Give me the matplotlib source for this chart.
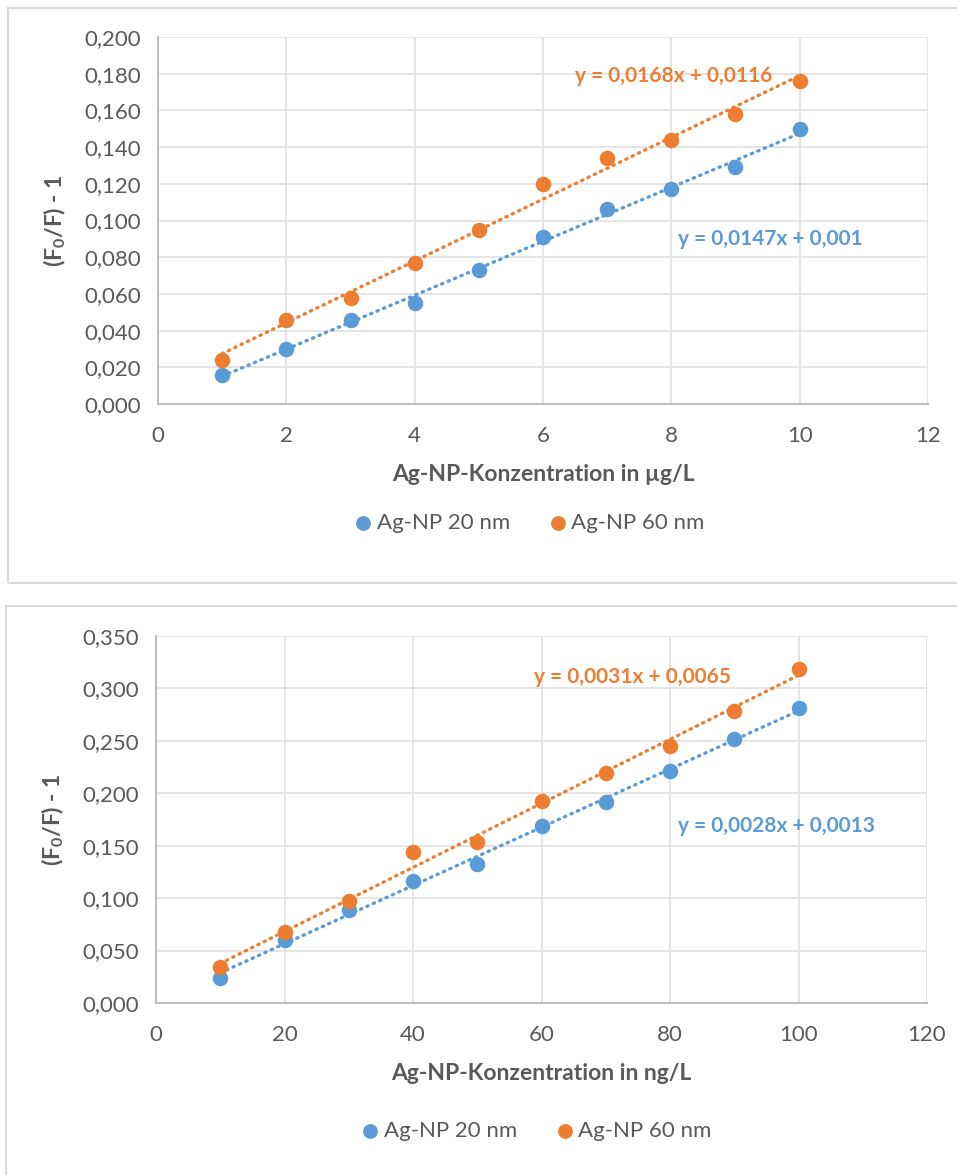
import numpy as np
import matplotlib
matplotlib.use("Agg")
import matplotlib.pyplot as plt
from matplotlib.patches import Rectangle

plt.rcParams['font.family'] = ['Lato', 'DejaVu Sans']
plt.rcParams['mathtext.fontset'] = 'custom'
plt.rcParams['mathtext.rm'] = 'Lato'
plt.rcParams['mathtext.bf'] = 'Lato:bold'

# ---------------- data ----------------
conc_ug = [1, 2, 3, 4, 5, 6, 7, 8, 9, 10]
top_20nm = [0.016, 0.030, 0.046, 0.055, 0.073, 0.091, 0.106, 0.117, 0.129, 0.150]
top_60nm = [0.024, 0.046, 0.058, 0.077, 0.095, 0.120, 0.134, 0.144, 0.158, 0.176]
top_eq = ["y = 0,0147x + 0,001", "y = 0,0168x + 0,0116"]

conc_ng = [10, 20, 30, 40, 50, 60, 70, 80, 90, 100]
bot_20nm = [0.024, 0.060, 0.089, 0.116, 0.133, 0.169, 0.192, 0.221, 0.252, 0.281]
bot_60nm = [0.034, 0.068, 0.097, 0.144, 0.154, 0.193, 0.219, 0.245, 0.278, 0.319]
bot_eq = ["y = 0,0028x + 0,0013", "y = 0,0031x + 0,0065"]

series_names = ["Ag-NP 20 nm", "Ag-NP 60 nm"]
BLUE = "#5B9BD5"
ORANGE = "#ED7D31"
GREY = "#595959"

fig = plt.figure(figsize=(9.57, 11.75), dpi=100)
W, H = 957, 1175

def px_axes(l, t, r, b):
    return fig.add_axes([l / W, 1 - b / H, (r - l) / W, (b - t) / H])

# chart frames
for (l, t, b) in [(8, 8, 583), (6, 606, 1180)]:
    fig.patches.append(Rectangle((l / W, 1 - b / H), 1.2, (b - t) / H,
                                 transform=fig.transFigure, fill=False,
                                 edgecolor="#d9d9d9", lw=1.5))

def draw_chart(ax, x, y1, y2, eqs, xmax, xstep, ymax, ystep, xlabel, eqpos):
    for y, c in [(y1, BLUE), (y2, ORANGE)]:
        k, d = np.polyfit(x, y, 1)
        xs = np.array([x[0], x[-1]])
        ax.plot(xs, k * xs + d, color=c, lw=2.4, linestyle=(0, (0.4, 1.7)),
                dash_capstyle="round", zorder=2)
    ax.scatter(x, y1, s=125, color=BLUE, zorder=3, label=series_names[0], linewidths=0)
    ax.scatter(x, y2, s=125, color=ORANGE, zorder=3, label=series_names[1], linewidths=0)
    ax.set_xlim(0, xmax)
    ax.set_ylim(0, ymax)
    ax.set_xticks(np.arange(0, xmax + xstep / 2, xstep))
    ax.set_yticks(np.arange(0, ymax + ystep / 2, ystep))
    ax.set_yticklabels([f"{v:.3f}".replace(".", ",") for v in ax.get_yticks()])
    ax.grid(True, color="#e3e3e3", lw=1.3)
    ax.set_axisbelow(True)
    for s in ["top", "right"]:
        ax.spines[s].set_visible(False)
    for s in ["left", "bottom"]:
        ax.spines[s].set_color("#bfbfbf")
        ax.spines[s].set_linewidth(1.5)
    ax.tick_params(length=0, labelsize=16, labelcolor=GREY)
    ax.tick_params(axis="x", pad=16)
    ax.tick_params(axis="y", pad=12)
    ax.set_xlabel(xlabel, fontsize=16.5, fontweight="bold", color=GREY, labelpad=13)
    ax.set_ylabel(r"(F$_{\mathbf{0}}$/F) - 1", fontsize=16.5, fontweight="bold",
                  color=GREY, labelpad=12)
    for txt, c, pos in zip(eqs, [BLUE, ORANGE], eqpos):
        ax.text(pos[0], pos[1], txt, color=c, fontsize=15, fontweight="bold",
                ha="center", va="center")

def add_legend(ax, cx, cy):
    fig.legend(*ax.get_legend_handles_labels(), loc="center", ncol=2,
               bbox_to_anchor=(cx / W, 1 - cy / H), frameon=False, fontsize=16,
               labelcolor=GREY, handlelength=0.7, handletextpad=0.25,
               columnspacing=1.8, markerscale=0.95)

ax1 = px_axes(158, 37, 928, 404)
draw_chart(ax1, conc_ug, top_20nm, top_60nm, top_eq, 12, 2, 0.2, 0.02,
           "Ag-NP-Konzentration in µg/L", [(9.55, 0.0899), (8.04, 0.179)])
add_legend(ax1, 530, 523)

ax2 = px_axes(156, 636, 927, 1003)
draw_chart(ax2, conc_ng, bot_20nm, bot_60nm, bot_eq, 120, 20, 0.35, 0.05,
           "Ag-NP-Konzentration in ng/L", [(96.5, 0.169), (74.1, 0.311)])
add_legend(ax2, 537, 1131)

fig.savefig("out.png", dpi=100)
